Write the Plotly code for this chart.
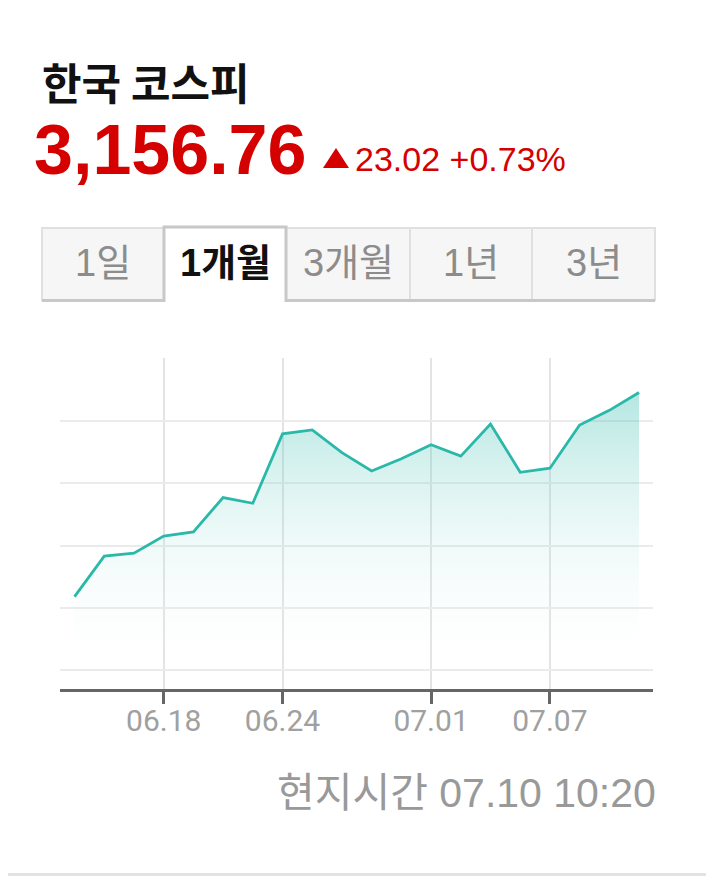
import plotly.graph_objects as go

# KOSPI daily closes for the "1개월" tab (last value is the intraday quote)
dates = ["06.13", "06.16", "06.17", "06.18", "06.19", "06.20", "06.23", "06.24",
         "06.25", "06.26", "06.27", "06.30", "07.01", "07.02", "07.03", "07.04",
         "07.07", "07.08", "07.09", "07.10"]
closes = [2894.62, 2946.66, 2950.30, 2972.29, 2977.74, 3021.84, 3014.47, 3103.64,
          3108.62, 3079.56, 3055.94, 3071.70, 3089.65, 3075.06, 3116.27, 3054.28,
          3059.47, 3114.95, 3133.74, 3156.76]
x_ticks = ["06.18", "06.24", "07.01", "07.07"]
tabs = ["1일", "1개월", "3개월", "1년", "3년"]
active_tab = "1개월"
title = "한국 코스피"
price = "3,156.76"
change = "23.02 +0.73%"
timestamp = "현지시간 07.10 10:20"

PAGE_W, PAGE_H = 714, 891
OFF = 8  # default body margin of the html page
W, H = PAGE_W - OFF, PAGE_H - OFF
L, R, T, B = 60, 653, 358, 689  # plot area, page pixels

RED = "#d50000"
TEAL = "#2ab8a9"
KR = "Liberation Sans, Noto Sans CJK KR"


def px(x):
    return (x - L) / (R - L)


def py(y):
    return (B - y) / (B - T)


def rect(x0, y0, x1, y1, **kw):
    return dict(type="rect", xref="paper", yref="paper",
                x0=px(x0), x1=px(x1), y0=py(y0), y1=py(y1), **kw)


def hline(x0, x1, y, color, width):
    return dict(type="line", xref="paper", yref="paper",
                x0=px(x0), x1=px(x1), y0=py(y), y1=py(y),
                line=dict(color=color, width=width))


fig = go.Figure()
fig.add_trace(go.Scatter(
    x=dates, y=closes, mode="lines",
    line=dict(color=TEAL, width=2.8),
    fill="tozeroy",
    fillgradient=dict(type="vertical", start=2795, stop=3160,
                      colorscale=[[0, "rgba(255,255,255,0)"],
                                  [1, "rgba(43,185,170,0.36)"]]),
    hoverinfo="skip",
))

# tab strip
tab_edges = [42, 164, 286, 410, 532, 655]
shapes = []
annotations = []
for i, label in enumerate(tabs):
    x0, x1 = tab_edges[i], tab_edges[i + 1]
    active = label == active_tab
    if not active:
        shapes.append(rect(x0, 228, x1, 300, fillcolor="#f6f6f6",
                           line=dict(color="#e0e0e0", width=2), layer="below"))
    annotations.append(dict(
        text="<b>%s</b>" % label if active else label,
        x=px((x0 + x1) / 2), y=py(263), xref="paper", yref="paper",
        xanchor="center", yanchor="middle", showarrow=False,
        font=dict(family=KR, size=38, color="#111" if active else "#8c8c8c"),
    ))
shapes.append(hline(42, 164, 300.5, "#c8c8c8", 3))
shapes.append(hline(286, 655, 300.5, "#c8c8c8", 3))
shapes.append(dict(type="path", xref="paper", yref="paper",
                   path="M%f,%f L%f,%f L%f,%f L%f,%f" % (
                       px(164), py(302), px(164), py(227),
                       px(286), py(227), px(286), py(302)),
                   line=dict(color="#c8c8c8", width=3)))

# red up triangle
shapes.append(dict(type="path", xref="paper", yref="paper",
                   path="M%f,%f L%f,%f L%f,%f Z" % (
                       px(323), py(168), px(336), py(148), px(349), py(168)),
                   fillcolor=RED, line=dict(width=0)))

# thin separator at the bottom of the card
shapes.append(rect(0, 873, PAGE_W, 876, fillcolor="#e3e3e3", line=dict(width=0)))

annotations += [
    dict(text="<b>%s</b>" % title, x=px(40), y=py(81), xanchor="left",
         font=dict(family="Noto Sans CJK KR", size=43, color="#111")),
    dict(text="<b>%s</b>" % price, x=px(32), y=py(150), xanchor="left",
         font=dict(family="Liberation Sans", size=70, color=RED)),
    dict(text=change, x=px(353), y=py(159), xanchor="left",
         font=dict(family="Liberation Sans", size=34, color=RED)),
    dict(text=timestamp, x=px(658), y=py(793), xanchor="right",
         font=dict(family=KR, size=41, color="#999")),
]
for a in annotations:
    a.setdefault("xref", "paper")
    a.setdefault("yref", "paper")
    a.setdefault("yanchor", "middle")
    a.setdefault("showarrow", False)

fig.update_layout(
    width=W, height=H,
    margin=dict(l=L - OFF, r=PAGE_W - R, t=T - OFF, b=PAGE_H - B),
    paper_bgcolor="white", plot_bgcolor="white",
    showlegend=False,
    shapes=shapes,
    annotations=annotations,
    xaxis=dict(type="category", range=[-0.49, 19.47],
               tickvals=x_ticks, ticktext=x_ticks,
               showgrid=True, gridcolor="#e4e4e4", gridwidth=2,
               showline=True, linecolor="#666", linewidth=3,
               ticks="outside", ticklen=12, tickwidth=2.5, tickcolor="#666",
               ticklabelstandoff=-9,
               tickfont=dict(family="Roboto", size=30, color="#a0a0a0"),
               fixedrange=True),
    yaxis=dict(range=[2776, 3201], tick0=2800, dtick=80,
               showgrid=True, gridcolor="#ebebeb", gridwidth=2,
               showticklabels=False, zeroline=False, showline=False,
               fixedrange=True),
)

fig.write_html("out.html")
